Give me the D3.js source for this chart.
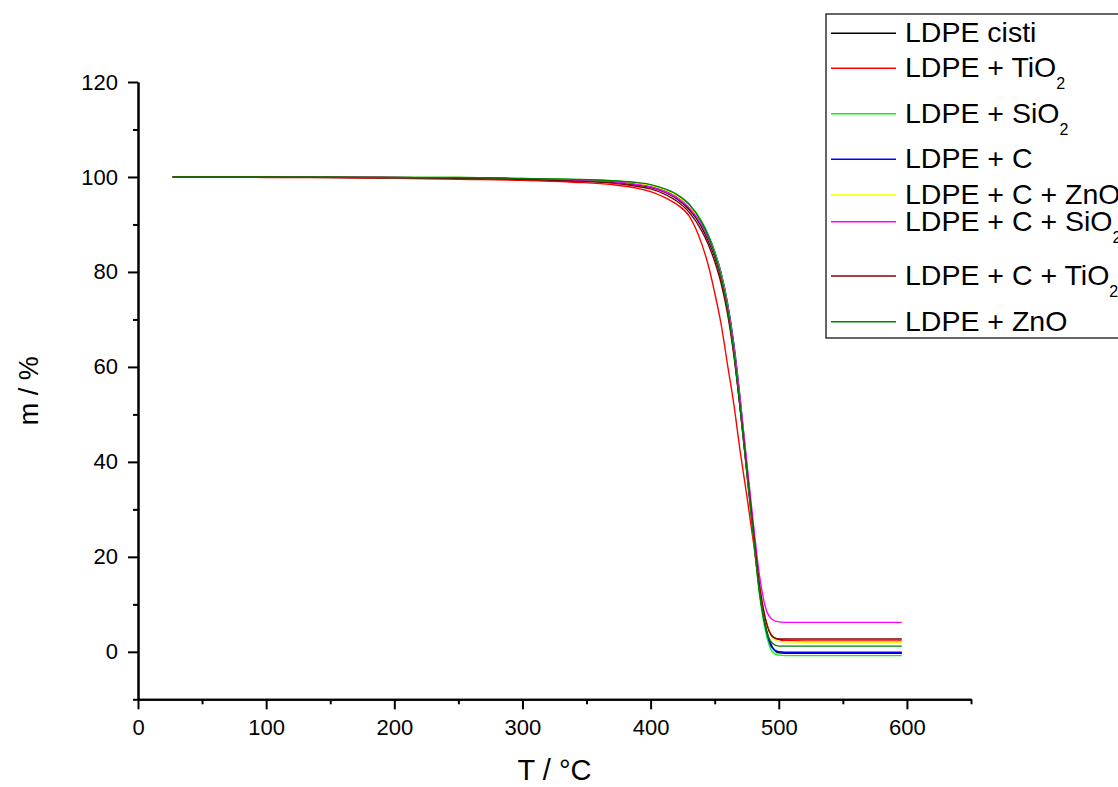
<!DOCTYPE html>
<html>
<head>
<meta charset="utf-8">
<script src="https://cdn.jsdelivr.net/npm/d3@7"></script>
<style>
    body { margin: 0; background: #fff; overflow: hidden; }
    svg { display: block; font-family: "Liberation Sans", Arial, sans-serif; }
</style>
</head>
<body>
<svg id="chart" width="1118" height="787"></svg>
<script>
// temperature grid (°C) shared by all series
const temps = [27, 60, 100, 150, 200, 250, 300, 340, 370, 390, 400, 410, 420, 430, 440, 445,
    450, 455, 460, 465, 470, 475, 480, 485, 490, 495, 500, 505, 520, 560, 596];

// mass (%)
const massCisti = [100, 100, 100, 100, 99.9, 99.8, 99.6, 99.3, 98.9, 98.3, 97.8, 96.9, 95.5, 93.2, 89.4, 86.6,
    83.2, 78.6, 72.0, 63.0, 51.0, 38.0, 25.0, 12.5, 5.0, 1.0, -0.2, -0.3, -0.3, -0.3, -0.3];
const massTiO2 = [100, 100, 99.9, 99.9, 99.7, 99.5, 99.3, 98.9, 98.4, 97.6, 96.9, 95.8, 94.3, 91.8, 85.8, 81.4,
    75.6, 69.0, 60.5, 52.0, 42.0, 33.0, 23.5, 13.5, 6.5, 3.3, 2.6, 2.4, 2.3, 2.3, 2.3];
const massSiO2 = [100, 100, 100, 100, 99.9, 99.9, 99.7, 99.5, 99.2, 98.7, 98.3, 97.5, 96.3, 94.2, 90.6, 87.9,
    84.4, 79.8, 73.2, 64.0, 52.0, 38.5, 25.0, 12.0, 4.0, 0.0, -0.7, -0.8, -0.8, -0.8, -0.8];
const massC = [100, 100, 100, 100, 99.9, 99.8, 99.6, 99.4, 99.1, 98.6, 98.1, 97.3, 96.0, 93.9, 90.3, 87.6,
    84.2, 79.8, 73.5, 64.8, 53.0, 39.5, 26.0, 13.0, 4.8, 0.8, 0.0, -0.1, -0.1, -0.1, -0.1];
const massCZnO = [100, 100, 100, 100, 99.9, 99.8, 99.6, 99.4, 99.1, 98.6, 98.2, 97.4, 96.1, 93.9, 90.2, 87.4,
    84.0, 79.4, 72.8, 63.8, 52.0, 39.0, 26.0, 14.0, 6.5, 3.0, 2.2, 2.1, 2.0, 2.0, 2.0];
const massCSiO2 = [100, 100, 100, 100, 99.9, 99.8, 99.6, 99.3, 99.0, 98.4, 97.9, 97.0, 95.7, 93.5, 89.8, 87.0,
    83.6, 79.0, 72.6, 63.8, 52.5, 40.0, 27.5, 16.0, 9.0, 6.8, 6.3, 6.2, 6.2, 6.2, 6.2];
const massCTiO2 = [100, 100, 100, 99.9, 99.8, 99.7, 99.5, 99.1, 98.7, 98.0, 97.5, 96.5, 95.0, 92.6, 88.6, 85.8,
    82.2, 77.6, 71.2, 62.3, 51.0, 38.5, 26.0, 14.0, 6.5, 3.2, 2.7, 2.7, 2.7, 2.7, 2.7];
const massZnO = [100, 100, 100, 100, 99.9, 99.9, 99.7, 99.5, 99.2, 98.8, 98.4, 97.6, 96.4, 94.3, 90.4, 87.5,
    83.8, 79.0, 72.3, 63.0, 51.0, 38.0, 25.0, 12.5, 4.8, 1.8, 1.2, 1.2, 1.2, 1.2, 1.2];

const seriesNames = ["LDPE cisti", "LDPE + TiO", "LDPE + SiO", "LDPE + C", "LDPE + C + ZnO",
    "LDPE + C + SiO", "LDPE + C + TiO", "LDPE + ZnO"];
const seriesSubs = ["", "2", "2", "", "", "2", "2", ""];
const seriesColors = ["#000000", "#ff0000", "#00ff00", "#0000ff", "#ffff00", "#ff00ff", "#800000", "#008000"];
const seriesMass = [massCisti, massTiO2, massSiO2, massC, massCZnO, massCSiO2, massCTiO2, massZnO];

const xMajorTicks = [0, 100, 200, 300, 400, 500, 600];
const xMinorTicks = [50, 150, 250, 350, 450, 550, 650];
const yMajorTicks = [0, 20, 40, 60, 80, 100, 120];
const yMinorTicks = [-10, 10, 30, 50, 70, 90, 110];

// layout
const plot = { left: 138, right: 971, top: 82, bottom: 699.3 };
const legendBox = { x: 826, y: 14, width: 320, height: 324 };
const legendRows = [33.3, 68.3, 113.7, 159.3, 195, 221.7, 276, 321.7];

const svg = d3.select("#chart");

const x = d3.scaleLinear().domain([0, 650]).range([plot.left, plot.right]);
const y = d3.scaleLinear().domain([-10, 120]).range([plot.bottom, plot.top]);

// curves
const line = d3.line()
    .x(function(d) { return x(d[0]); })
    .y(function(d) { return y(d[1]); })
    .curve(d3.curveMonotoneX);

seriesMass.forEach(function(mass, i) {
    svg.append("path")
        .datum(temps.map(function(t, j) { return [t, mass[j]]; }))
        .attr("fill", "none")
        .attr("stroke", seriesColors[i])
        .attr("stroke-width", 1.4)
        .attr("d", line);
});

// axes
function styleAxis(g) {
    g.select(".domain").attr("stroke", "#000").attr("stroke-width", 2);
    g.selectAll(".tick line").attr("stroke", "#000").attr("stroke-width", 2);
    g.selectAll(".tick text")
        .attr("fill", "#000")
        .style("font-size", "22px")
        .style("font-family", "'Liberation Sans', Arial, sans-serif");
}

svg.append("g")
    .attr("transform", "translate(0," + plot.bottom + ")")
    .call(d3.axisBottom(x).tickValues(xMinorTicks).tickSize(5).tickSizeOuter(0).tickFormat(""))
    .call(styleAxis);

svg.append("g")
    .attr("transform", "translate(0," + plot.bottom + ")")
    .call(d3.axisBottom(x).tickValues(xMajorTicks).tickSize(10).tickSizeOuter(0).tickPadding(10))
    .call(styleAxis);

svg.append("g")
    .attr("transform", "translate(" + plot.left + ",0)")
    .call(d3.axisLeft(y).tickValues(yMinorTicks).tickSize(5).tickSizeOuter(0).tickFormat(""))
    .call(styleAxis);

svg.append("g")
    .attr("transform", "translate(" + plot.left + ",0)")
    .call(d3.axisLeft(y).tickValues(yMajorTicks).tickSize(10).tickSizeOuter(0).tickPadding(10))
    .call(styleAxis);

// axis titles
svg.append("text")
    .attr("x", (plot.left + plot.right) / 2)
    .attr("y", 780)
    .attr("text-anchor", "middle")
    .style("font-size", "29px")
    .text("T / °C");

svg.append("text")
    .attr("transform", "translate(38," + ((plot.top + plot.bottom) / 2) + ") rotate(-90)")
    .attr("text-anchor", "middle")
    .style("font-size", "27px")
    .text("m / %");

// legend
svg.append("rect")
    .attr("x", legendBox.x)
    .attr("y", legendBox.y)
    .attr("width", legendBox.width)
    .attr("height", legendBox.height)
    .attr("fill", "#fff")
    .attr("stroke", "#000")
    .attr("stroke-width", 1.2);

seriesNames.forEach(function(name, i) {
    const rowY = legendRows[i];

    svg.append("line")
        .attr("x1", 831)
        .attr("x2", 896)
        .attr("y1", rowY)
        .attr("y2", rowY)
        .attr("stroke", seriesColors[i])
        .attr("stroke-width", 1.4);

    const label = svg.append("text")
        .attr("x", 905)
        .attr("y", rowY + 9)
        .style("font-size", "28.5px")
        .text(name);

    if (seriesSubs[i]) {
        label.append("tspan")
            .attr("dy", 12)
            .style("font-size", "16px")
            .text(seriesSubs[i]);
    }
});
</script>
</body>
</html>
